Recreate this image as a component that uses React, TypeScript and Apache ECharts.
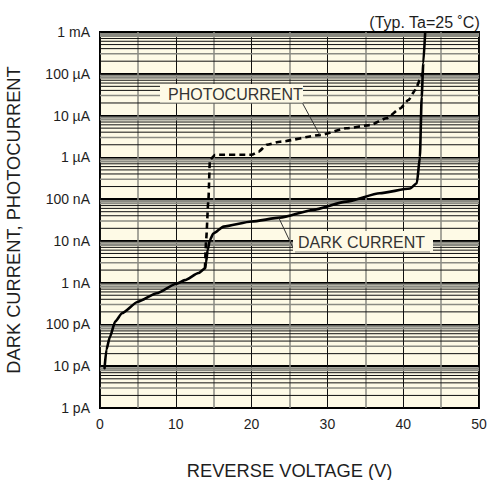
import React, { useEffect, useRef } from 'react';
import * as echarts from 'echarts';

// ---- data ----
const darkV = [0.6, 0.85, 1.3, 2.0, 2.9, 5.0, 7.5, 10.0, 11.2, 13.0, 13.85, 14.0, 14.2, 14.5, 14.95, 16.3, 20.0, 23.75, 28.1, 32.5, 36.9, 40.9, 41.8, 42.2, 42.44, 42.65, 42.9];
const darkI = [9e-12, 2.5e-11, 5e-11, 1.17e-10, 1.85e-10, 3.5e-10, 5.6e-10, 9.3e-10, 1.15e-9, 1.7e-9, 2.2e-9, 3.1e-9, 6e-9, 1.05e-8, 1.5e-8, 2.2e-8, 2.9e-8, 3.6e-8, 5.5e-8, 8.7e-8, 1.38e-7, 1.8e-7, 2.4e-7, 1.0e-6, 2.8e-5, 1.8e-4, 1e-3];

const photoV = [13.85, 14.0, 14.3, 14.5, 15.2, 20.0, 20.9, 22.0, 23.75, 29.0, 32.5, 35.6, 37.8, 39.6, 40.7, 41.6, 42.2, 42.55];
const photoI = [2.2e-9, 1.05e-8, 9.5e-8, 8.7e-7, 1.15e-6, 1.15e-6, 1.36e-6, 2.0e-6, 2.37e-6, 3.4e-6, 4.95e-6, 5.9e-6, 8.6e-6, 1.48e-5, 2.36e-5, 4.1e-5, 7.1e-5, 1.05e-4];

const yTickLabels = ['1 pA', '10 pA', '100 pA', '1 nA', '10 nA', '100 nA', '1 µA', '10 µA', '100 µA', '1 mA'];
const decadeExponents = [-12, -11, -10, -9, -8, -7, -6, -5, -4];
const minorMultipliers = [2, 3, 4, 5, 6, 7, 8, 9];
const xMin = 0;
const xMax = 50;

// leader lines (data coordinates)
const photoLeader = [[26.7, 2.0e-5], [29.0, 3.43e-6]];
const darkLeader = [[25.7, 5.52e-9], [23.6, 3.53e-8]];

const FONT = '"Liberation Sans", Arial, Helvetica, sans-serif';
const CREAM = '#fefae6';
const GRAY = '#8a8a82';
const TEXT = '#1e1e1e';

// style index per minor multiplier: 0 = black thin, 1 = gray wide, 2 = gray medium
const lineStyles = [
  { stroke: '#111', lineWidth: 1 },
  { stroke: GRAY, lineWidth: 2 },
  { stroke: GRAY, lineWidth: 1.5 },
];
function styleIndex(m: number) {
  if (m === 9 || m === 8) return 1;
  if (m === 3) return 2;
  return 0;
}

export default function App() {
  const ref = useRef<HTMLDivElement>(null);
  useEffect(() => {
    document.body.style.margin = '0';
    const chart = echarts.init(ref.current!, null, { renderer: 'svg' });

    const gridData: number[][] = [];
    decadeExponents.forEach((e) => {
      minorMultipliers.forEach((m) => {
        gridData.push([xMin, m * Math.pow(10, e), styleIndex(m)]);
      });
    });

    const option: any = {
      animation: false,
      backgroundColor: '#ffffff',
      textStyle: { fontFamily: FONT },
      title: {
        text: '(Typ. Ta=25 ˚C)',
        right: 2,
        top: 9,
        textStyle: { fontFamily: FONT, fontSize: 16, fontWeight: 'normal', color: TEXT },
      },
      grid: {
        left: 100,
        right: 8,
        top: 32,
        bottom: 72,
        containLabel: false,
        outerBoundsMode: 'none',
        show: true,
        backgroundColor: CREAM,
        borderColor: '#000',
        borderWidth: 2,
      },
      xAxis: {
        type: 'value',
        min: xMin,
        max: xMax,
        interval: 10,
        name: 'REVERSE VOLTAGE (V)',
        nameLocation: 'middle',
        nameGap: 53,
        nameTextStyle: { fontFamily: FONT, fontSize: 18.3, color: TEXT },
        axisLine: { show: false },
        axisTick: { show: false },
        axisLabel: { fontFamily: FONT, fontSize: 14, color: TEXT, margin: 9 },
        splitLine: { show: true, lineStyle: { color: '#111', width: 1 } },
        minorTick: { show: false, splitNumber: 2 },
        minorSplitLine: { show: true, lineStyle: { color: GRAY, width: 1.5 } },
      },
      yAxis: {
        type: 'log',
        logBase: 10,
        min: 1e-12,
        max: 1e-3,
        splitNumber: 9,
        name: 'DARK CURRENT, PHOTOCURRENT',
        nameLocation: 'middle',
        nameGap: 78,
        nameRotate: 90,
        nameTextStyle: { fontFamily: FONT, fontSize: 18.3, color: TEXT },
        axisLine: { show: false },
        axisTick: { show: false },
        axisLabel: {
          fontFamily: FONT,
          fontSize: 14,
          color: TEXT,
          margin: 10,
          formatter: (v: number) => yTickLabels[Math.round(Math.log10(v)) + 12] ?? '',
        },
        splitLine: { show: true, lineStyle: { color: '#000', width: 2 } },
      },
      series: [
        {
          name: 'grid',
          type: 'custom',
          z: 1,
          silent: true,
          data: gridData,
          encode: { x: 0, y: 1 },
          renderItem: (params: any, api: any) => {
            const v = api.value(1);
            const s = lineStyles[api.value(2)];
            const p1 = api.coord([xMin, v]);
            const p2 = api.coord([xMax, v]);
            return {
              type: 'line',
              shape: { x1: p1[0], y1: p1[1], x2: p2[0], y2: p2[1] },
              style: { stroke: s.stroke, lineWidth: s.lineWidth, fill: null },
            };
          },
        },
        {
          name: 'DARK CURRENT',
          type: 'line',
          data: darkV.map((v, i) => [v, darkI[i]]),
          showSymbol: false,
          symbol: 'none',
          smooth: 0.2,
          smoothMonotone: 'x',
          z: 4,
          lineStyle: { color: '#000', width: 2.6, cap: 'round', join: 'round' },
          silent: true,
        },
        {
          name: 'PHOTOCURRENT',
          type: 'line',
          data: photoV.map((v, i) => [v, photoI[i]]),
          showSymbol: false,
          symbol: 'none',
          smooth: 0.2,
          smoothMonotone: 'x',
          z: 3,
          lineStyle: { color: '#000', width: 2.6, type: [6, 4], join: 'round' },
          silent: true,
          markLine: {
            z: 5,
            silent: true,
            symbol: 'none',
            animation: false,
            label: { show: false },
            emphasis: { disabled: true },
            lineStyle: { color: '#333', width: 1, type: 'solid' },
            data: [
              [{ coord: photoLeader[0] }, { coord: photoLeader[1] }],
              [{ coord: darkLeader[0] }, { coord: darkLeader[1] }],
            ],
          },
        },
      ],
      graphic: [
        { type: 'rect', z: 100, silent: true, shape: { x: 160, y: 84, width: 143, height: 19 }, style: { fill: CREAM } },
        { type: 'line', z: 101, silent: true, shape: { x1: 160, y1: 103, x2: 303, y2: 103 }, style: { stroke: GRAY, lineWidth: 1 } },
        {
          type: 'text',
          z: 102,
          silent: true,
          x: 168,
          y: 94,
          style: { text: 'PHOTOCURRENT', font: `16px ${FONT}`, fill: '#333', textVerticalAlign: 'middle', textAlign: 'left' },
        },
        { type: 'rect', z: 100, silent: true, shape: { x: 293, y: 231, width: 140, height: 21 }, style: { fill: CREAM } },
        { type: 'line', z: 101, silent: true, shape: { x1: 295, y1: 252, x2: 430, y2: 252 }, style: { stroke: GRAY, lineWidth: 1 } },
        {
          type: 'text',
          z: 102,
          silent: true,
          x: 298,
          y: 242,
          style: { text: 'DARK CURRENT', font: `16px ${FONT}`, fill: '#333', textVerticalAlign: 'middle', textAlign: 'left' },
        },
      ],
    };

    chart.setOption(option);
    return () => chart.dispose();
  }, []);
  return <div ref={ref} style={{ position: 'absolute', left: 0, top: 0, width: 487, height: 480 }} />;
}
